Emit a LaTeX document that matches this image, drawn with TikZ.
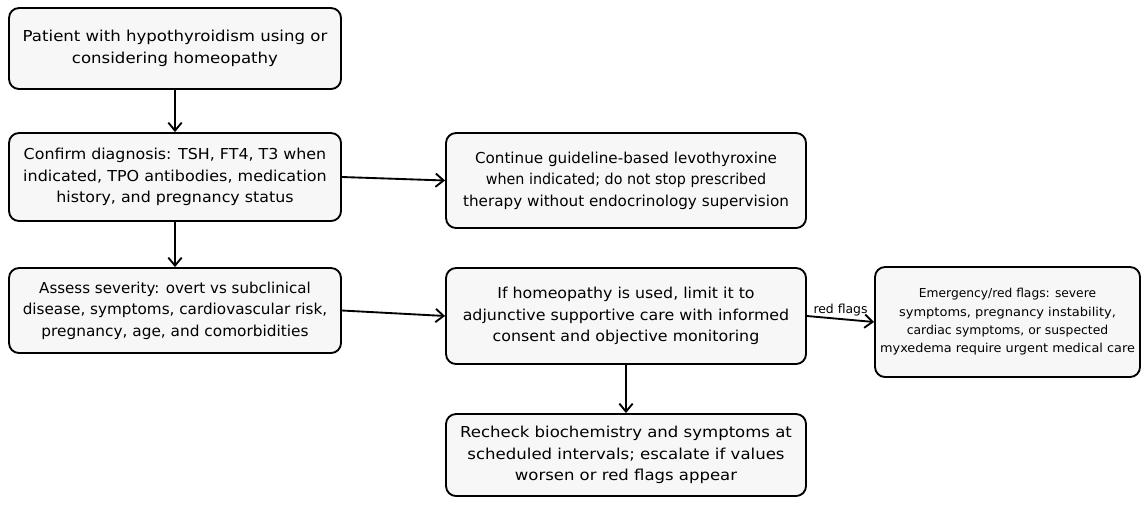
\documentclass[tikz,border=0pt]{standalone}
\usepackage{fontspec}
\usepackage{graphicx}
\setmainfont{DejaVu Sans}
\usetikzlibrary{arrows.meta}
\newcommand{\stretchline}[2]{\scalebox{#1}[1]{#2}}
\begin{document}
\begin{tikzpicture}[x=0.75pt,y=-0.75pt,
  box/.style={draw=black, line width=1.4pt, rounded corners=7.5pt, fill=black!3,
    align=center, inner sep=0pt, font=\fontsize{11.3pt}{16.1pt}\selectfont},
  smallbox/.style={box, font=\fontsize{9.2pt}{13.7pt}\selectfont},
  conn/.style={line width=1.4pt, -{Straight Barb[length=6pt,width=10pt,line width=1.4pt]}},
  lbl/.style={font=\fontsize{9.3pt}{10pt}\selectfont, inner sep=1.5pt}]
\useasboundingbox (0,0) rectangle (1144,504);
\node[box, minimum width=249pt, minimum height=60.75pt] (a) at (175,48.5)
  {\stretchline{1.10}{Patient with hypothyroidism using or}\\\stretchline{1.10}{considering homeopathy}};
\node[box, minimum width=249pt, minimum height=66pt] (b) at (175,177)
  {\stretchline{1.052}{Confirm diagnosis: TSH, FT4, T3 when}\\\stretchline{1.06}{indicated, TPO antibodies, medication}\\\stretchline{1.052}{history, and pregnancy status}};
\node[box, minimum width=249pt, minimum height=63.75pt] (c) at (175,310.5)
  {\stretchline{1.0}{Assess severity: overt vs subclinical}\\\stretchline{1.01}{disease, symptoms, cardiovascular risk,}\\\stretchline{1.018}{pregnancy, age, and comorbidities}};
\node[box, minimum width=270pt, minimum height=71.25pt] (d) at (626,180.5)
  {\stretchline{1.006}{Continue guideline-based levothyroxine}\\\stretchline{0.95}{when indicated; do not stop prescribed}\\\stretchline{1.009}{therapy without endocrinology supervision}};
\node[box, minimum width=270pt, minimum height=72pt] (e) at (626,316)
  {\stretchline{1.05}{If homeopathy is used, limit it to}\\\stretchline{1.052}{adjunctive supportive care with informed}\\\stretchline{1.052}{consent and objective monitoring}};
\node[box, minimum width=270pt, minimum height=61.5pt] (f) at (626,455)
  {\stretchline{1.098}{Recheck biochemistry and symptoms at}\\\stretchline{1.10}{scheduled intervals; escalate if values}\\\stretchline{1.095}{worsen or red flags appear}};
\node[smallbox, minimum width=198.75pt, minimum height=82.5pt] (g) at (1007.5,322)
  {\stretchline{1.0}{Emergency/red flags: severe}\\\stretchline{1.06}{symptoms, pregnancy instability,}\\\stretchline{1.01}{cardiac symptoms, or suspected}\\\stretchline{1.048}{myxedema require urgent medical care}};
\draw[conn] (a) -- (b);
\draw[conn] (b) -- (c);
\draw[conn] (b.east) -- (d.west);
\draw[conn] (c.east) -- (e.west);
\draw[conn] (e.east) -- node[lbl, above, pos=0.5] {red flags} (g.west);
\draw[conn] (e) -- (f);
\end{tikzpicture}
\end{document}
